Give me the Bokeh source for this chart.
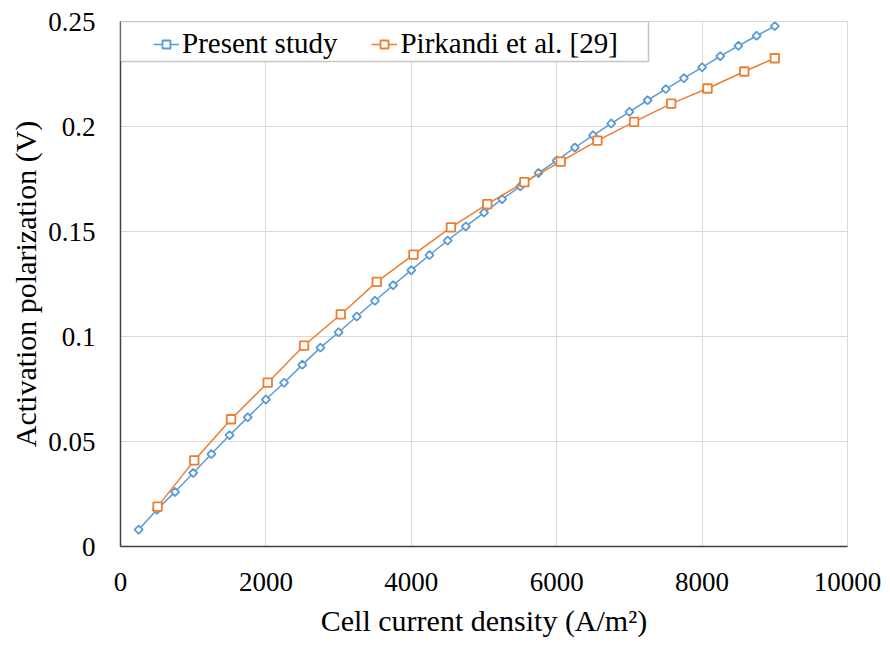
from bokeh.plotting import figure
from bokeh.models import FixedTicker, Legend, LegendItem, BoxAnnotation
from bokeh.embed import file_html
from bokeh.resources import INLINE
import math

# ---- data ----
present_x = [250, 500, 750, 1000, 1250, 1500, 1750, 2000, 2250, 2500, 2750, 3000,
             3250, 3500, 3750, 4000, 4250, 4500, 4750, 5000, 5250, 5500, 5750, 6000,
             6250, 6500, 6750, 7000, 7250, 7500, 7750, 8000, 8250, 8500, 8750, 9000]
present_y = [0.008, 0.0175, 0.026, 0.035, 0.044, 0.053, 0.0615, 0.070, 0.078, 0.0865,
             0.0947, 0.102, 0.1095, 0.117, 0.1244, 0.1316, 0.1388, 0.1457, 0.1524, 0.159,
             0.1654, 0.1715, 0.1779, 0.1838, 0.190, 0.1958, 0.2014, 0.207, 0.2125, 0.2178,
             0.223, 0.2282, 0.2335, 0.2384, 0.2432, 0.2478]

pirkandi_x = [510, 1015, 1520, 2025, 2525, 3030, 3525, 4030, 4545, 5045, 5555, 6055,
              6560, 7065, 7575, 8075, 8580, 9000]
pirkandi_y = [0.019, 0.041, 0.0606, 0.078, 0.0957, 0.1105, 0.126, 0.139, 0.152, 0.163,
              0.1735, 0.1833, 0.1933, 0.2022, 0.2109, 0.2181, 0.2262, 0.2325]

x_ticks = [0, 2000, 4000, 6000, 8000, 10000]
x_tick_labels = ["0", "2000", "4000", "6000", "8000", "10000"]
y_ticks = [0, 0.05, 0.1, 0.15, 0.2, 0.25]
y_tick_labels = ["0", "0.05", "0.1", "0.15", "0.2", "0.25"]

series_names = ["Present study", "Pirkandi et al. [29]"]

BLUE = "#5B9BD5"
ORANGE = "#ED7D31"
FONT = "Times New Roman"

p = figure(width=886, height=644, x_range=(0, 10000), y_range=(0, 0.25),
           output_backend="svg", toolbar_location=None,
           min_border_left=120, min_border_right=39, min_border_top=21, min_border_bottom=98)

p.outline_line_color = "#D9D9D9"
p.background_fill_color = "white"
p.border_fill_color = "white"

# grids
p.xgrid.ticker = FixedTicker(ticks=x_ticks)
p.ygrid.ticker = FixedTicker(ticks=y_ticks)
for g in (p.xgrid, p.ygrid):
    g.grid_line_color = "#D9D9D9"
    g.grid_line_width = 1

# axes
p.xaxis.ticker = FixedTicker(ticks=x_ticks)
p.yaxis.ticker = FixedTicker(ticks=y_ticks)
p.xaxis.major_label_overrides = {t: l for t, l in zip(x_ticks, x_tick_labels)}
p.yaxis.major_label_overrides = {t: l for t, l in zip(y_ticks, y_tick_labels)}
for ax in (p.xaxis, p.yaxis):
    ax.axis_line_color = "#404040"
    ax.axis_line_width = 1.5
    ax.major_tick_line_color = None
    ax.minor_tick_line_color = None
    ax.major_tick_out = 0
    ax.major_tick_in = 0
    ax.major_label_text_color = "black"
    ax.major_label_text_font = FONT
    ax.major_label_text_font_size = "27px"
    ax.axis_label_text_font = FONT
    ax.axis_label_text_font_size = "30px"
    ax.axis_label_text_font_style = "normal"
    ax.axis_label_text_color = "black"

p.xaxis.axis_label = "Cell current density (A/m\u00b2)"
p.yaxis.axis_label = "Activation polarization (V)"
p.xaxis.major_label_standoff = 26
p.yaxis.major_label_standoff = 25
p.xaxis.axis_label_standoff = 10
p.yaxis.axis_label_standoff = 3

# series
l1 = p.line(present_x, present_y, line_color=BLUE, line_width=1.5)
s1 = p.scatter(present_x, present_y, marker="square", size=5.8, angle=math.pi / 4,
               line_color=BLUE, line_width=1.8, fill_color="white")
l2 = p.line(pirkandi_x, pirkandi_y, line_color=ORANGE, line_width=1.5)
s2 = p.scatter(pirkandi_x, pirkandi_y, marker="square", size=8.5,
               line_color=ORANGE, line_width=1.8, fill_color="white")

# legend box
box = BoxAnnotation(left=0, right=528, top=525, bottom=485,
                    left_units="screen", right_units="screen",
                    top_units="screen", bottom_units="screen",
                    fill_color="white", fill_alpha=1.0,
                    line_color="#404040", line_width=1.5)
p.add_layout(box)

legend = Legend(items=[LegendItem(label=series_names[0], renderers=[l1, s1]),
                       LegendItem(label=series_names[1], renderers=[l2, s2])],
                orientation="horizontal", location=(29, 482),
                padding=4, spacing=34, label_standoff=3,
                glyph_width=26, glyph_height=20, label_height=20,
                label_text_font=FONT, label_text_font_size="29px",
                label_text_color="black",
                border_line_alpha=0, background_fill_alpha=0)
p.add_layout(legend, "center")

open("out.html", "w").write(file_html(p, INLINE))
